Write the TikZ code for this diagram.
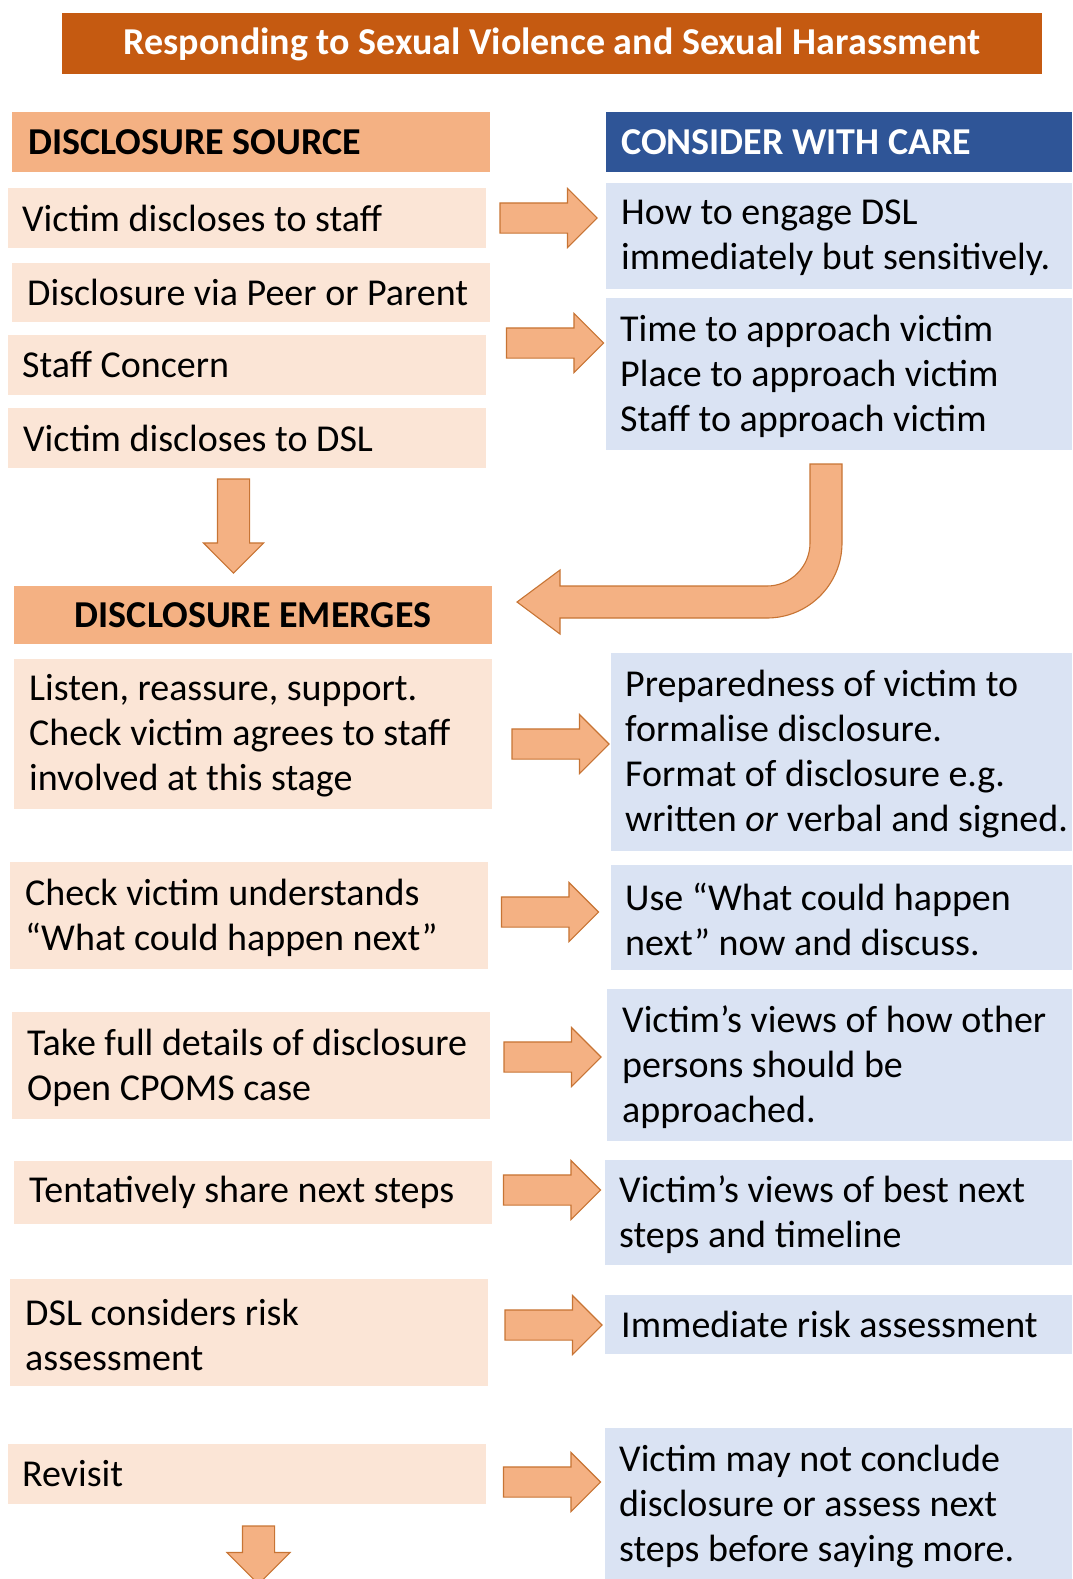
\documentclass[tikz,border=0pt]{standalone}
\usepackage{fontspec}
\setmainfont{Carlito}
\usetikzlibrary{shapes.arrows}
\definecolor{titlec}{HTML}{C55A11}
\definecolor{hdor}{HTML}{F4B183}
\definecolor{ltor}{HTML}{FBE5D6}
\definecolor{hdbl}{HTML}{2F5597}
\definecolor{ltbl}{HTML}{DAE3F3}
\definecolor{arrline}{HTML}{C77434}
\newcommand\bodyfnt{\fontsize{38}{45}\selectfont}
\newcommand\hdfnt{\fontsize{38}{45}\selectfont\bfseries}
\newcommand\ttlfnt{\fontsize{38}{45}\selectfont\bfseries}
\begin{document}
\begin{tikzpicture}[x=1pt,y=-1pt,
  box/.style={anchor=north west, inner sep=0pt, outer sep=0pt, draw=none},
  lbox/.style={box, fill=ltor},
  rbox/.style={box, fill=ltbl},
  txt/.style={anchor=west, inner sep=0pt, align=left, font=\bodyfnt, text=black},
  hdtxt/.style={anchor=west, inner sep=0pt, font=\hdfnt},
  rarr/.style={single arrow, fill=hdor, draw=arrline, line width=1.1pt,
    single arrow head extend=14.5pt, minimum height=97pt, inner xsep=0pt, inner ysep=14.5pt},
  darr/.style={rarr, rotate=-90},
  bentarr/.style={fill=hdor, draw=arrline, line width=1.1pt, line join=miter}
]
\useasboundingbox (0,0) rectangle (1072,1579);

% title
\node[box, fill=titlec, minimum width=980pt, minimum height=61pt] (title) at (62,13) {};
\node[font=\ttlfnt, text=white, inner sep=0pt] at ([yshift=-1pt]title.center) {Responding to Sexual Violence and Sexual Harassment};

% headers
\node[box, fill=hdor, minimum width=478pt, minimum height=60pt] (h1) at (12,112) {};
\node[hdtxt, text=black] at ([xshift=16pt]h1.west) {DISCLOSURE SOURCE};
\node[box, fill=hdbl, minimum width=466pt, minimum height=60pt] (h3) at (606,112) {};
\node[hdtxt, text=white] at ([xshift=15pt]h3.west) {CONSIDER WITH CARE};
\node[box, fill=hdor, minimum width=478pt, minimum height=58pt] (h2) at (14,586) {};
\node[font=\hdfnt, inner sep=0pt] at (h2.center) {DISCLOSURE EMERGES};

% left boxes
\node[lbox, minimum width=478pt, minimum height=60pt] (s1) at (8,188) {};
\node[txt] at ([xshift=14pt]s1.west) {Victim discloses to staff};
\node[lbox, minimum width=478pt, minimum height=59pt] (s2) at (12,263) {};
\node[txt] at ([xshift=15pt]s2.west) {Disclosure via Peer or Parent};
\node[lbox, minimum width=478pt, minimum height=60pt] (s3) at (8,335) {};
\node[txt] at ([xshift=14pt]s3.west) {Staff Concern};
\node[lbox, minimum width=478pt, minimum height=60pt] (s4) at (8,408) {};
\node[txt] at ([xshift=15pt]s4.west) {Victim discloses to DSL};
\node[lbox, minimum width=478pt, minimum height=150pt] (s5) at (14,659) {};
\node[txt] at ([xshift=15pt,yshift=-2pt]s5.west) {Listen, reassure, support.\\Check victim agrees to staff\\involved at this stage};
\node[lbox, minimum width=478pt, minimum height=107pt] (s6) at (10,862) {};
\node[txt] at ([xshift=15pt,yshift=-2pt]s6.west) {Check victim understands\\“What could happen next”};
\node[lbox, minimum width=478pt, minimum height=107pt] (s7) at (12,1012) {};
\node[txt] at ([xshift=15pt,yshift=-2pt]s7.west) {Take full details of disclosure\\Open CPOMS case};
\node[lbox, minimum width=478pt, minimum height=63pt] (s8) at (14,1161) {};
\node[txt] at ([xshift=15pt]s8.west) {Tentatively share next steps};
\node[lbox, minimum width=478pt, minimum height=107pt] (s9) at (10,1279) {};
\node[txt] at ([xshift=15pt,yshift=-2pt]s9.west) {DSL considers risk\\assessment};
\node[lbox, minimum width=478pt, minimum height=60pt] (s10) at (8,1444) {};
\node[txt] at ([xshift=14pt]s10.west) {Revisit};

% right boxes
\node[rbox, minimum width=466pt, minimum height=106pt] (r1) at (606,183) {};
\node[txt] at ([xshift=15pt,yshift=-2pt]r1.west) {How to engage DSL\\immediately but sensitively.};
\node[rbox, minimum width=466pt, minimum height=152pt] (r2) at (606,298) {};
\node[txt] at ([xshift=14pt,yshift=-2pt]r2.west) {Time to approach victim\\Place to approach victim\\Staff to approach victim};
\node[rbox, minimum width=461pt, minimum height=198pt] (r3) at (611,653) {};
\node[txt] at ([xshift=14pt,yshift=-2pt]r3.west) {Preparedness of victim to\\formalise disclosure.\\Format of disclosure e.g.\\written \textit{or} verbal and signed.};
\node[rbox, minimum width=461pt, minimum height=105pt] (r4) at (611,865) {};
\node[txt] at ([xshift=14pt,yshift=-2pt]r4.west) {Use “What could happen\\next” now and discuss.};
\node[rbox, minimum width=465pt, minimum height=152pt] (r5) at (607,989) {};
\node[txt] at ([xshift=15pt,yshift=-2pt]r5.west) {Victim’s views of how other\\persons should be\\approached.};
\node[rbox, minimum width=467pt, minimum height=105pt] (r6) at (605,1160) {};
\node[txt] at ([xshift=14pt,yshift=-2pt]r6.west) {Victim’s views of best next\\steps and timeline};
\node[rbox, minimum width=467pt, minimum height=59pt] (r7) at (605,1295) {};
\node[txt] at ([xshift=16pt]r7.west) {Immediate risk assessment};
\node[rbox, minimum width=467pt, minimum height=151pt] (r8) at (605,1428) {};
\node[txt] at ([xshift=14pt,yshift=-3pt]r8.west) {Victim may not conclude\\disclosure or assess next\\steps before saying more.};

% right arrows
\node[rarr] (a1) at (541,218) {};
\node[rarr] (a2) at (547.5,343) {};
\node[rarr] (a3) at (553,744) {};
\node[rarr] (a4) at (542.5,912) {};
\node[rarr] (a5) at (545,1057) {};
\node[rarr] (a6) at (544.5,1190) {};
\node[rarr] (a7) at (546,1325) {};
\node[rarr] (a8) at (544.5,1482) {};

% down arrows
\node[darr, minimum height=94pt, inner ysep=15.5pt, single arrow head extend=14pt] (d1) at (233.5,518) {};
\node[darr, minimum height=58pt, inner ysep=15.5pt, single arrow head extend=15.5pt] (d2) at (258.5,1547) {};

% bent arrow
\draw[bentarr] (810,464) -- (842,464) -- (842,543)
  .. controls (842,584.4) and (808.4,618) .. (767,618)
  -- (560,618) -- (560,634) -- (517,602) -- (560,570) -- (560,586) -- (767,586)
  .. controls (790.7,586) and (810,566.7) .. (810,543) -- cycle;
\end{tikzpicture}
\end{document}
